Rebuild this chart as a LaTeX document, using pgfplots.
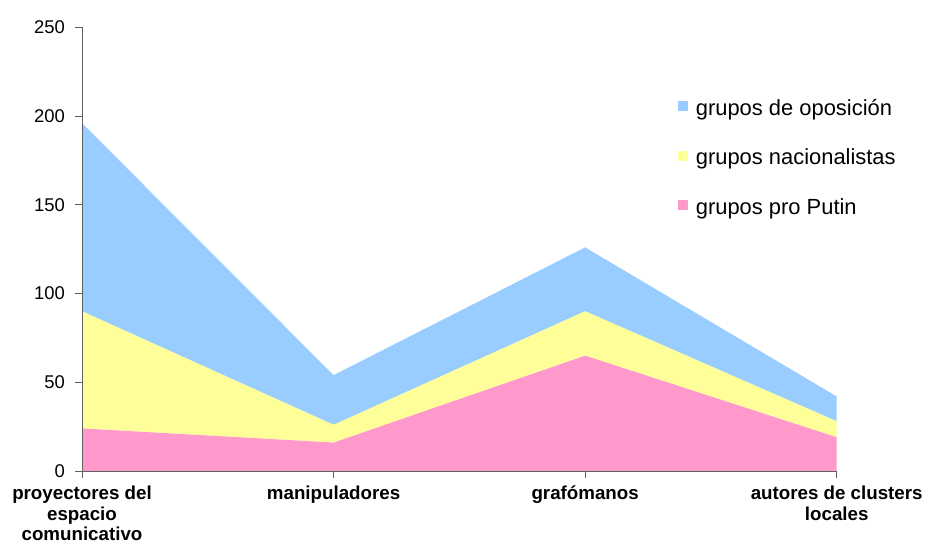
\documentclass[border=0pt]{standalone}
\usepackage{pgfplots}
\pgfplotsset{compat=1.18}
\usepackage{fontspec}
\setmainfont{Liberation Sans}
\definecolor{cblue}{HTML}{99CCFF}
\definecolor{cyellow}{HTML}{FFFF99}
\definecolor{cpink}{HTML}{FF99CC}
\definecolor{axgray}{HTML}{606060}
\begin{document}
\begin{tikzpicture}
\useasboundingbox (0,0) rectangle (927bp,544bp);
\begin{axis}[
  at={(82bp,73bp)}, anchor=south west,
  scale only axis, width=754.7bp, height=443.7bp,
  xmin=0, xmax=3, ymin=0, ymax=250,
  stack plots=y,
  axis lines*=left,
  axis line style={axgray, line width=0.8bp},
  axis on top,
  tick align=outside,
  major tick length=6.5bp,
  tick style={axgray, line width=0.8bp},
  xtick={0,1,2,3},
  xticklabels={{proyectores del\\espacio\\comunicativo},{manipuladores},{grafómanos},{autores de clusters\\locales}},
  xticklabel style={align=center, font=\fontsize{18.8}{20.5}\selectfont\bfseries, yshift=-5bp},
  ytick={0,50,100,150,200,250},
  yticklabel style={font=\fontsize{18.5}{21}\selectfont, xshift=-7bp},
  /pgf/number format/assume math mode=true,
  legend style={at={(0.786,0.84)}, anchor=north west, draw=none, fill=none,
    font=\fontsize{22}{25}\selectfont, row sep=29.5bp,
    nodes={inner sep=0pt, text height=15bp, text depth=5bp}},
  legend cell align=left,
  reverse legend,
  legend image code/.code={\fill[#1, draw=none] (0bp,-1bp) rectangle (10bp,9bp);},
  legend style={/tikz/every even column/.append style={column sep=0bp}},
]
\addplot[fill=cpink, draw=none] coordinates {(0,24) (1,16) (2,65) (3,19)} \closedcycle;
\addplot[fill=cyellow, draw=none] coordinates {(0,66) (1,10) (2,25) (3,9)} \closedcycle;
\addplot[fill=cblue, draw=none] coordinates {(0,106) (1,28) (2,36) (3,14)} \closedcycle;
\legend{\hspace{7.5bp}grupos pro Putin, \hspace{7.5bp}grupos nacionalistas, \hspace{7.5bp}grupos de oposición}
\end{axis}
\end{tikzpicture}
\end{document}
